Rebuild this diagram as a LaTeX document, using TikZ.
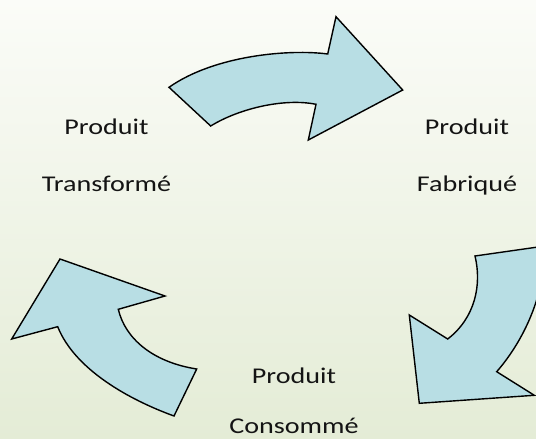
\documentclass[tikz,border=0pt]{standalone}
\usepackage{fontspec}
\setmainfont{Carlito}
\definecolor{bgtop}{RGB}{251,252,248}
\definecolor{bgbot}{RGB}{228,236,214}
\definecolor{arrowfill}{RGB}{184,222,228}
\definecolor{txt}{RGB}{20,20,20}
\tikzset{
  bigarrow/.style={fill=arrowfill, draw=black, line width=1.4pt, line join=miter},
  lbl/.style={anchor=base, inner sep=0pt, text=txt, font=\fontsize{22.5}{22.5}\selectfont}
}
\newcommand{\wide}[1]{\scalebox{1.25}[1]{#1}}
\begin{document}
\begin{tikzpicture}[x=1pt,y=-1pt]
\begin{scope}[y=1pt]
\shade[top color=bgtop, bottom color=bgbot] (0,-439) rectangle (536,0);
\end{scope}
\useasboundingbox (0,0) rectangle (536,439);
\begin{scope}
\clip (0,0) rectangle (536,439);
% top arrow
\draw[bigarrow] (169,87.3) -- (210.7,126) .. controls (240,108) and (285,98) .. (316,104.3)
  -- (308.3,140) -- (402.7,90) -- (336,16.7) -- (327.7,54)
  .. controls (290,49) and (215,55) .. (169,87.3) -- cycle;
% right arrow
\draw[bigarrow] (475,256) -- (545,246) .. controls (545,300) and (520,345) .. (496.7,371.7)
  -- (534.3,395.3) -- (419.3,403.3) -- (409.3,315) -- (447.7,339)
  .. controls (475,318) and (482,285) .. (475,256) -- cycle;
% left arrow
\draw[bigarrow] (60,259) -- (165,296) -- (118.3,309.3)
  .. controls (125,338) and (152,362) .. (196.7,369) -- (174,416)
  .. controls (130,400) and (75,370) .. (57.7,326.7) -- (11.7,339) -- cycle;
\end{scope}
% labels
\node[lbl] (tP) at (106.5,134) {\wide{Produit}};
\node[lbl] (tT) at (106.5,191) {\wide{Transformé}};
\node[lbl] (fP) at (467,134) {\wide{Produit}};
\node[lbl] (fF) at (467,191) {\wide{Fabriqué}};
\node[lbl] (cP) at (294,383) {\wide{Produit}};
\node[lbl] (cC) at (294,433) {\wide{Consommé}};
\end{tikzpicture}
\end{document}
